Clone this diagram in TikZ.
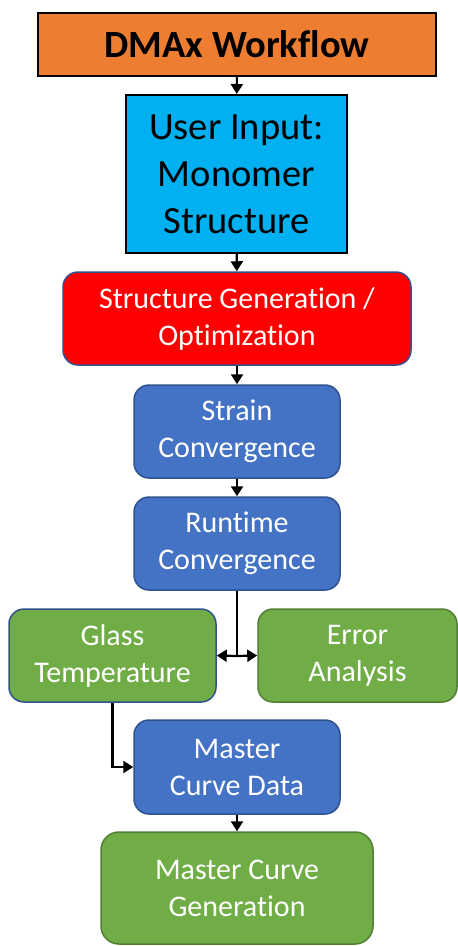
\documentclass[tikz,border=0pt]{standalone}
\usepackage{fontspec}
\setmainfont{Carlito}[Ligatures=NoCommon]
\usetikzlibrary{arrows.meta}
\definecolor{orangeF}{HTML}{ED7D31}
\definecolor{cyanF}{HTML}{00B0F0}
\definecolor{blueF}{HTML}{4472C4}
\definecolor{blueB}{HTML}{2F528F}
\definecolor{greenF}{HTML}{70AD47}
\definecolor{greenB}{HTML}{507E32}
\tikzset{
  box/.style={draw=blueB, line width=1.5pt, rounded corners=15pt, align=center, inner sep=0pt, text=white,
    font=\fontsize{30}{37}\selectfont},
  bluebox/.style={box, fill=blueF, minimum width=206pt, minimum height=93pt},
  greenbox/.style={box, fill=greenF, minimum height=93pt},
  conn/.style={line width=2.2pt, -{Triangle[width=12pt,length=10pt]}},
  plain/.style={line width=2.2pt}
}
\begin{document}
\begin{tikzpicture}[x=1pt,y=-1pt]
\useasboundingbox (0,0) rectangle (458,946);
\node[draw=black, line width=2pt, fill=orangeF, minimum width=398pt, minimum height=63pt, inner sep=0pt,
  font=\bfseries\fontsize{38.5}{46}\selectfont] (title) at (237,44.5) {DMAx Workflow};
\node[draw=black, line width=2pt, fill=cyanF, minimum width=221pt, minimum height=158pt, inner sep=0pt, align=center,
  font=\fontsize{38.5}{47}\selectfont] (user) at (236.5,174) {User Input:\\Monomer\\Structure};
\node[box, fill=red, minimum width=348pt, minimum height=93pt] (struct) at (237,318.5) {Structure Generation /\\Optimization};
\node[bluebox] (strain) at (237,431.5) {Strain\\Convergence};
\node[bluebox] (runtime) at (237,543.5) {Runtime\\Convergence};
\node[greenbox, minimum width=207pt] (glass) at (112.5,655.5) {Glass\\Temperature};
\node[greenbox, draw=greenB, minimum width=199pt] (error) at (357.5,655.5) {Error\\Analysis};
\node[bluebox, minimum height=94pt] (mcd) at (237,767) {Master\\Curve Data};
\node[greenbox, draw=greenB, minimum width=272pt, minimum height=112pt, rounded corners=18pt] (mcg) at (237,888) {Master Curve\\Generation};
\coordinate (split) at (237,656);
\draw[conn] (title) -- (user);
\draw[conn] (user) -- (struct);
\draw[conn] (struct) -- (strain);
\draw[conn] (strain) -- (runtime);
\draw[plain] (runtime.south) -- (split);
\draw[conn] (split) -- (glass.east);
\draw[conn] (split) -- (error.west);
\draw[conn] (glass.south) |- (mcd.west);
\draw[conn] (mcd) -- (mcg);
\end{tikzpicture}
\end{document}
